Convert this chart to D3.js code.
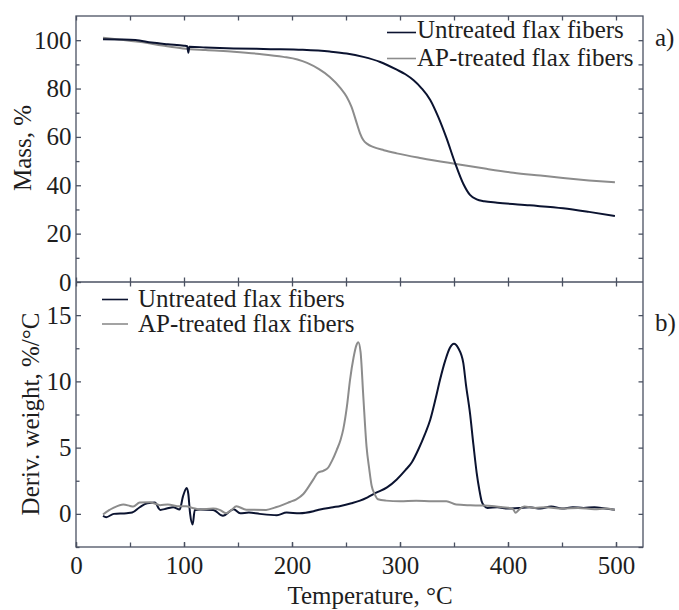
<!DOCTYPE html>
<html>
<head>
<meta charset="utf-8">
<script src="https://cdn.jsdelivr.net/npm/d3@7"></script>
<style>
  body { margin: 0; background: #fff; }
  text { font-family: "Liberation Serif", "Times New Roman", serif; }
</style>
</head>
<body>
<script>
// TGA curves (mass, %)
var tgaUntreatedT = [25, 40, 55, 70, 85, 100, 103, 104, 105, 120, 146, 180, 210, 235, 250.6, 266, 281.7, 297, 305, 312.6, 320, 328, 335.5, 343, 351, 358.7, 364.8, 371, 378, 390, 420, 451, 475, 499];
var tgaUntreated  = [100.4, 100.3, 100.1, 99.0, 98.3, 97.7, 97.5, 94.8, 97.3, 97.0, 96.6, 96.3, 96.0, 95.3, 94.5, 93.1, 91.0, 87.8, 85.9, 83.4, 80.1, 75.3, 68.2, 59.6, 49.2, 40.5, 36.0, 34.2, 33.4, 32.8, 31.7, 30.5, 29.0, 27.3];

var tgaTreatedT = [25, 40, 60, 80, 99, 120, 146, 170, 192, 205, 214, 225, 235, 244.5, 250.6, 255, 260, 263, 266, 270, 275, 285, 297, 320, 352, 380, 405, 430, 451, 475, 499];
var tgaTreated  = [101.0, 100.3, 99.2, 97.8, 96.6, 95.9, 95.2, 94.3, 93.1, 92.0, 90.6, 88.0, 84.8, 80.4, 76.6, 72.5, 65.6, 61.5, 58.7, 57.0, 55.9, 54.5, 53.2, 51.2, 48.8, 46.8, 45.2, 44.0, 43.0, 42.0, 41.2];

// DTG curves (deriv. weight, %/°C)
var dtgUntreatedT = [25, 28, 35, 47, 52, 59, 66, 73, 78, 84, 90, 96, 99, 102.5, 104, 105.6, 108, 110, 115, 127, 136, 146, 152, 160, 170, 186, 195, 207, 220, 226, 238, 245, 255, 263, 270, 278, 288, 297, 305, 311, 317, 323, 328, 333, 337, 342, 346, 350, 354, 358.6, 361, 364.8, 368, 371, 373.5, 375.6, 378, 381, 390, 400, 410, 420, 430, 440, 450, 460, 470, 480, 490, 499];
var dtgUntreated  = [-0.15, -0.25, 0, 0.05, 0.1, 0.5, 0.8, 0.85, 0.3, 0.4, 0.5, 0.33, 1.3, 1.95, 1.5, 0.05, -0.8, 0.3, 0.33, 0.3, -0.15, 0.35, 0.05, 0.1, 0, -0.1, 0.1, 0.05, 0.2, 0.33, 0.5, 0.6, 0.8, 1.0, 1.25, 1.6, 2.0, 2.6, 3.3, 3.9, 4.86, 6.0, 7.1, 8.7, 10.1, 11.6, 12.5, 12.84, 12.5, 11.4, 9.8, 7.6, 5.2, 3.1, 1.8, 0.95, 0.6, 0.45, 0.5, 0.4, 0.45, 0.5, 0.4, 0.55, 0.4, 0.5, 0.45, 0.5, 0.4, 0.32];

var dtgTreatedT = [25, 30, 34.6, 43.8, 50, 53, 59, 68.5, 72, 77.8, 85, 96, 102, 108, 114.8, 127, 133, 139, 144, 148.5, 157.7, 176, 185, 192, 198, 204, 210.5, 215, 219.8, 224, 229, 233.6, 237, 241.3, 245, 247.5, 251, 253.7, 257, 259.5, 261.4, 263.5, 266, 269, 271.5, 273.8, 276.5, 279.6, 287, 300, 315, 330, 343, 352, 365, 374, 385, 395, 402, 405, 407, 410, 415, 425, 435, 450, 465, 480, 490, 499];
var dtgTreated  = [-0.05, 0.25, 0.45, 0.7, 0.6, 0.55, 0.85, 0.88, 0.8, 0.66, 0.7, 0.57, 0.57, 0.45, 0.33, 0.4, 0.3, 0.05, 0.3, 0.57, 0.32, 0.3, 0.5, 0.7, 0.9, 1.1, 1.5, 2.0, 2.6, 3.1, 3.25, 3.5, 4.0, 4.8, 5.6, 6.4, 8.2, 10.1, 11.8, 12.7, 12.96, 12.2, 8.9, 5.1, 3.4, 2.1, 1.5, 1.1, 1.0, 0.95, 1.0, 0.95, 0.95, 0.7, 0.65, 0.63, 0.6, 0.5, 0.45, 0.33, 0.08, 0.3, 0.55, 0.45, 0.5, 0.4, 0.45, 0.35, 0.4, 0.3];

var seriesNames = ["Untreated flax fibers", "AP-treated flax fibers"];
var xTicks = [0, 100, 200, 300, 400, 500];
var massTicks = [0, 20, 40, 60, 80, 100];
var derivTicks = [0, 5, 10, 15];

var W = 679, H = 610;
var left = 76, right = 643, top1 = 16, mid = 282, bottom2 = 547;
var dark = "#0b1330", gray = "#8c8c8c", frame = "#4a5162", ink = "#1e1e1e";

var svg = d3.select("body").append("svg")
    .attr("width", W)
    .attr("height", H);

svg.append("rect").attr("width", W).attr("height", H).attr("fill", "#fff");

var x = d3.scaleLinear().domain([0, 525]).range([left, right]);
var yTop = d3.scaleLinear().domain([0, 110]).range([mid, top1]);
var yBot = d3.scaleLinear().domain([-2.5, 17.5]).range([bottom2, mid]);

function zip(ts, vs) {
    return ts.map(function(t, i) { return [t, vs[i]]; });
}

// draw one axis with inward ticks, no domain line
function addAxis(axisFn, scale, pos, vals, size, labels, pad) {
    var ax = axisFn(scale).tickValues(vals).tickSizeInner(-size).tickSizeOuter(0);
    if (labels) ax.tickPadding(pad); else ax.tickFormat("");
    var g = svg.append("g").attr("transform", pos).call(ax);
    g.select(".domain").remove();
    g.selectAll(".tick line").attr("stroke", frame).attr("stroke-width", 1.3);
    g.selectAll(".tick text")
        .attr("fill", ink)
        .style("font-family", "'Liberation Serif', serif")
        .style("font-size", "25px");
    return g;
}

var x50 = d3.range(0, 525, 50);

// ---- top panel (a) ----
addAxis(d3.axisLeft, yTop, "translate(" + left + ",0)", d3.range(10, 110, 20), 3.5, false);
addAxis(d3.axisLeft, yTop, "translate(" + left + ",0)", massTicks, 5, true, 4.5);
addAxis(d3.axisRight, yTop, "translate(" + right + ",0)", d3.range(10, 110, 10), 4.5, false);
addAxis(d3.axisTop, x, "translate(0," + top1 + ")", x50, 4.5, false);
addAxis(d3.axisBottom, x, "translate(0," + mid + ")", x50, 4.5, false);

// ---- bottom panel (b) ----
addAxis(d3.axisLeft, yBot, "translate(" + left + ",0)", [-2.5, 2.5, 7.5, 12.5], 3.5, false);
addAxis(d3.axisLeft, yBot, "translate(" + left + ",0)", derivTicks, 5, true, 4.5);
addAxis(d3.axisRight, yBot, "translate(" + right + ",0)", [-2.5, 0, 2.5, 5, 7.5, 10, 12.5, 15], 4.5, false);
addAxis(d3.axisTop, x, "translate(0," + mid + ")", x50, 4.5, false);
addAxis(d3.axisBottom, x, "translate(0," + bottom2 + ")", x50, 4.5, false);
addAxis(d3.axisBottom, x, "translate(0," + bottom2 + ")", xTicks, 5, true, 9);

// frames
svg.append("rect")
    .attr("x", left).attr("y", top1)
    .attr("width", right - left).attr("height", bottom2 - top1)
    .attr("fill", "none").attr("stroke", frame).attr("stroke-width", 1.3);
svg.append("line")
    .attr("x1", left).attr("x2", right)
    .attr("y1", mid).attr("y2", mid)
    .attr("stroke", frame).attr("stroke-width", 1.3);

// curves
var lineTop = d3.line()
    .x(function(d) { return x(d[0]); })
    .y(function(d) { return yTop(d[1]); })
    .curve(d3.curveMonotoneX);
var lineBot = d3.line()
    .x(function(d) { return x(d[0]); })
    .y(function(d) { return yBot(d[1]); })
    .curve(d3.curveMonotoneX);

svg.append("path").datum(zip(tgaTreatedT, tgaTreated))
    .attr("d", lineTop).attr("fill", "none").attr("stroke", gray).attr("stroke-width", 2);
svg.append("path").datum(zip(tgaUntreatedT, tgaUntreated))
    .attr("d", lineTop).attr("fill", "none").attr("stroke", dark).attr("stroke-width", 2);

svg.append("path").datum(zip(dtgUntreatedT, dtgUntreated))
    .attr("d", lineBot).attr("fill", "none").attr("stroke", dark).attr("stroke-width", 2);
svg.append("path").datum(zip(dtgTreatedT, dtgTreated))
    .attr("d", lineBot).attr("fill", "none").attr("stroke", gray).attr("stroke-width", 2);

// legends
var colors = [dark, gray];
var legTop = [{ ly: 32.5, ty: 38 }, { ly: 58.5, ty: 66 }];
legTop.forEach(function(p, i) {
    svg.append("line").attr("x1", 387).attr("x2", 416).attr("y1", p.ly).attr("y2", p.ly)
        .attr("stroke", colors[i]).attr("stroke-width", 1.6);
    svg.append("text").attr("x", 417).attr("y", p.ty).attr("fill", ink)
        .style("font-size", "25px").text(seriesNames[i]);
});
var legBot = [{ ly: 299.5, ty: 307 }, { ly: 324, ty: 331.5 }];
legBot.forEach(function(p, i) {
    svg.append("line").attr("x1", 102).attr("x2", 128).attr("y1", p.ly).attr("y2", p.ly)
        .attr("stroke", colors[i]).attr("stroke-width", 1.6);
    svg.append("text").attr("x", 138).attr("y", p.ty).attr("fill", ink)
        .style("font-size", "25px").text(seriesNames[i]);
});

// panel tags
svg.append("text").attr("x", 655).attr("y", 46).attr("fill", ink).style("font-size", "25px").text("a)");
svg.append("text").attr("x", 655).attr("y", 331).attr("fill", ink).style("font-size", "25px").text("b)");

// axis titles
svg.append("text").attr("x", 370).attr("y", 604).attr("text-anchor", "middle").attr("fill", ink)
    .style("font-size", "25px").text("Temperature, °C");
svg.append("text").attr("transform", "translate(31,148) rotate(-90)").attr("text-anchor", "middle")
    .attr("fill", ink).style("font-size", "25px").text("Mass, %");
svg.append("text").attr("transform", "translate(39,414) rotate(-90)").attr("text-anchor", "middle")
    .attr("fill", ink).style("font-size", "25px").text("Deriv. weight, %/°C");
</script>
</body>
</html>
